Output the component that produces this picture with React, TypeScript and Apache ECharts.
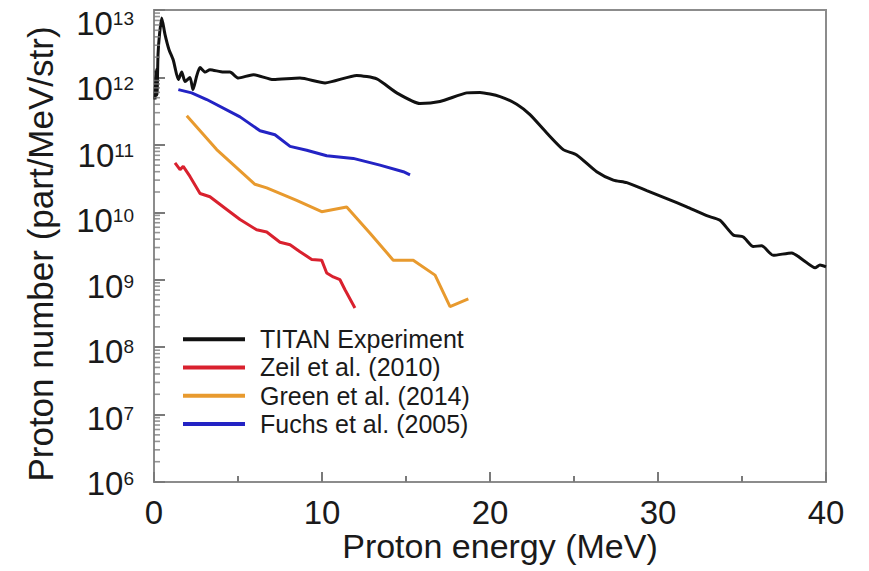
import React, { useEffect, useRef } from "react";
import * as echarts from "echarts";

// Proton spectra: energy (MeV) vs number (part/MeV/str)
const titanEnergy = [0.06, 0.12, 0.18, 0.24, 0.33, 0.46, 0.65, 0.89, 1.15, 1.45, 1.65, 1.85, 2.14, 2.32, 2.54, 2.74, 3.04, 3.33, 4.13, 4.52, 5.02, 5.91, 7.1, 8.69, 10.18, 12.07, 13.26, 14.45, 15.83, 17.02, 18.61, 19.4, 20.6, 21.59, 22.38, 23.38, 24.36, 25.16, 26.35, 27.34, 28.14, 29.33, 30.52, 31.71, 32.9, 33.69, 34.48, 35.08, 35.67, 36.17, 36.86, 37.96, 38.65, 39.35, 39.64, 40.0];
const titanCounts = [4.7e11, 1.3e12, 5.5e11, 2.2e12, 4.4e12, 7.6e12, 4.4e12, 2.6e12, 1.8e12, 9.3e11, 1.2e12, 8.7e11, 1.0e12, 6.6e11, 1.05e12, 1.4e12, 1.2e12, 1.3e12, 1.2e12, 1.2e12, 9.8e11, 1.1e12, 9.3e11, 9.8e11, 8.3e11, 1.07e12, 9.5e11, 5.9e11, 4.1e11, 4.4e11, 5.9e11, 6.0e11, 5.2e11, 4.0e11, 2.8e11, 1.5e11, 8.5e10, 7.1e10, 4.0e10, 3.0e10, 2.75e10, 2.1e10, 1.6e10, 1.2e10, 8.9e9, 7.6e9, 4.6e9, 4.3e9, 3.1e9, 3.2e9, 2.3e9, 2.5e9, 1.95e9, 1.5e9, 1.65e9, 1.55e9];

const zeilEnergy = [1.25, 1.55, 1.74, 2.14, 2.74, 3.33, 4.33, 5.12, 6.11, 6.71, 7.5, 8.1, 8.69, 9.39, 9.98, 10.28, 10.67, 11.07, 11.37, 11.96];
const zeilCounts = [5.4e10, 4.3e10, 4.8e10, 3.4e10, 1.9e10, 1.7e10, 1.1e10, 7.8e9, 5.5e9, 5.1e9, 3.6e9, 3.3e9, 2.6e9, 2.0e9, 1.95e9, 1.26e9, 1.1e9, 1.0e9, 7.1e8, 3.8e8];

const greenEnergy = [1.95, 3.73, 6.01, 6.71, 8.49, 9.98, 11.47, 12.86, 14.24, 15.43, 16.73, 17.62, 18.71];
const greenCounts = [2.7e11, 8.5e10, 2.6e10, 2.3e10, 1.5e10, 1.02e10, 1.2e10, 4.9e9, 1.95e9, 1.95e9, 1.17e9, 4.0e8, 5.2e8];

const fuchsEnergy = [1.45, 2.24, 3.14, 5.12, 6.31, 7.2, 8.1, 9.09, 10.28, 11.86, 13.45, 14.84, 15.24];
const fuchsCounts = [6.6e11, 5.9e11, 4.7e11, 2.6e11, 1.62e11, 1.41e11, 9.5e10, 8.3e10, 6.9e10, 6.3e10, 5.0e10, 4.0e10, 3.6e10];

const seriesNames = ["TITAN Experiment", "Zeil et al. (2010)", "Green et al. (2014)", "Fuchs et al. (2005)"];
const seriesColors = ["#111111", "#d9212e", "#e89a2e", "#2323c4"];
const seriesSmooth = [0.2, false, false, false];

// Log-axis decades (tick labels 10^6 … 10^13) and minor tick mantissas
const decades = [6, 7, 8, 9, 10, 11, 12];
const labelExponents = [6, 7, 8, 9, 10, 11, 12, 13];
const mantissas = [2, 3, 4, 5, 6, 7, 8, 9];

const FONT = "Liberation Sans, Arial, sans-serif";
const AXIS_GREY = "#7a7a7a";

const pairs = (xs: number[], ys: number[]) => xs.map((x, i) => [x, ys[i]]);

export default function App() {
  const ref = useRef<HTMLDivElement>(null);

  useEffect(() => {
    if (!ref.current) return;
    const chart = echarts.init(ref.current, null, { renderer: "svg" });

    const minorTickValues: number[][] = [];
    decades.forEach((d) => mantissas.forEach((m) => minorTickValues.push([0, m * Math.pow(10, d)])));

    // Upper labels sit a little lower than their ticks; a zero-width spacer
    // token of growing height pushes the text down.
    const rich: Record<string, any> = {
      b: { fontFamily: FONT, fontSize: 33, color: "#1a1a1a", lineHeight: 36, verticalAlign: "bottom" },
      s: { fontFamily: FONT, fontSize: 19, color: "#1a1a1a", lineHeight: 21, verticalAlign: "bottom", padding: [0, 0, 12, 0] },
    };
    labelExponents.forEach((e) => {
      rich["g" + e] = { fontSize: 1, lineHeight: 36 + 2 * Math.round((e - 6) * 1.7), verticalAlign: "bottom", width: 0 };
    });

    const lineSeries = [
      [titanEnergy, titanCounts],
      [zeilEnergy, zeilCounts],
      [greenEnergy, greenCounts],
      [fuchsEnergy, fuchsCounts],
    ].map(([xs, ys], i) => ({
      type: "line",
      name: seriesNames[i],
      data: pairs(xs, ys),
      showSymbol: false,
      smooth: seriesSmooth[i],
      lineStyle: { color: seriesColors[i], width: 3 },
      itemStyle: { color: seriesColors[i] },
      z: 3 + (3 - i),
    }));

    chart.setOption({
      animation: false,
      backgroundColor: "#ffffff",
      grid: {
        left: 154,
        right: 43,
        top: 10,
        bottom: 89,
        containLabel: false,
        outerBoundsMode: "none",
        show: true,
        borderColor: "#8c8c8c",
        borderWidth: 2,
      },
      legend: {
        data: seriesNames,
        orient: "vertical",
        left: 178,
        top: 320,
        icon: "rect",
        itemWidth: 62,
        itemHeight: 4,
        itemGap: 0,
        textStyle: {
          fontFamily: FONT,
          fontSize: 25,
          lineHeight: 28.3,
          color: "#1a1a1a",
          padding: [0, 0, 0, 10],
        },
      },
      xAxis: {
        type: "value",
        min: 0,
        max: 40,
        interval: 10,
        name: "Proton energy (MeV)",
        nameLocation: "middle",
        nameGap: 49,
        nameMoveOverlap: false,
        nameTextStyle: { fontFamily: FONT, fontSize: 34, lineHeight: 30, color: "#1a1a1a", padding: [0, 0, 0, 20] },
        axisLine: { show: true, lineStyle: { color: "#8c8c8c", width: 2 } },
        axisTick: { show: true, inside: true, length: 10, lineStyle: { color: AXIS_GREY, width: 2 } },
        minorTick: { show: true, splitNumber: 2, length: 6, lineStyle: { color: AXIS_GREY, width: 2 } },
        splitLine: { show: false },
        axisLabel: { fontFamily: FONT, fontSize: 33, lineHeight: 26, color: "#1a1a1a", margin: 17 },
      },
      yAxis: {
        type: "log",
        logBase: 10,
        min: 1e6,
        max: 1e13,
        name: "Proton number (part/MeV/str)",
        nameLocation: "middle",
        nameGap: 96,
        nameTextStyle: { fontFamily: FONT, fontSize: 35, color: "#1a1a1a", padding: [0, 16, 0, 0] },
        axisLine: { show: true, lineStyle: { color: "#8c8c8c", width: 2 } },
        axisTick: { show: true, inside: true, length: 11, lineStyle: { color: AXIS_GREY, width: 2 } },
        splitLine: { show: false },
        axisLabel: {
          margin: 20,
          formatter: (v: number) => {
            const e = Math.round(Math.log10(v));
            return `{g${e}| }{b|10}{s|${e}}`;
          },
          rich,
        },
      },
      series: [
        {
          // short inward minor ticks on the log axis
          type: "scatter",
          name: "minor ticks",
          silent: true,
          clip: false,
          z: 10,
          data: minorTickValues,
          symbol: "rect",
          symbolSize: [6, 1.6],
          symbolOffset: [3, 0],
          itemStyle: { color: AXIS_GREY },
          tooltip: { show: false },
        },
        ...lineSeries,
      ],
    });

    return () => chart.dispose();
  }, []);

  return <div ref={ref} style={{ width: 869, height: 571, position: "absolute", left: 0, top: 0 }} />;
}
